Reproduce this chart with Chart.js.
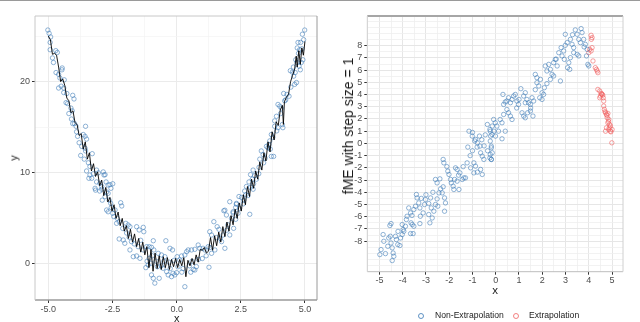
<!DOCTYPE html>
<html><head><meta charset="utf-8">
<script src="https://cdn.jsdelivr.net/npm/chart.js@4.4.0/dist/chart.umd.min.js"></script>
<style>
html,body{margin:0;padding:0;background:#fff;}
body{width:640px;height:322px;position:relative;overflow:hidden;font-family:"Liberation Sans",Arial,sans-serif;}
#topline{position:absolute;left:0;top:0;width:640px;height:1px;background:#9a9a9a;}
canvas{position:absolute;top:0;}
.t{position:absolute;color:#1a1a1a;white-space:nowrap;line-height:1;}
.leg{position:absolute;font-size:8.6px;color:#222;line-height:1;white-space:nowrap;}
.dot{position:absolute;width:4px;height:4px;border-radius:50%;background:transparent;}
</style>
</head><body>
<div id="topline"></div>
<canvas id="left" width="330" height="322" style="left:0;width:330px;height:322px"></canvas>
<canvas id="right" width="310" height="322" style="left:330px;width:310px;height:322px"></canvas>

<div class="t" style="left:176.7px;top:318px;font-size:11px;transform:translate(-50%,-50%)">x</div>
<div class="t" style="left:14px;top:158px;font-size:11px;transform:translate(-50%,-50%) rotate(-90deg)">y</div>
<div class="t" style="left:495px;top:291px;font-size:11.5px;transform:translate(-50%,-50%)">x</div>
<div class="t" style="left:348px;top:126px;font-size:14px;transform:translate(-50%,-50%) rotate(-90deg)">fME with step size = 1</div>

<div class="dot" style="left:418px;top:312.5px;border:1px solid rgba(58,120,181,0.8)"></div>
<div class="leg" style="left:435px;top:311px">Non-Extrapolation</div>
<div class="dot" style="left:512.5px;top:312.5px;border:1px solid rgba(240,100,100,0.8)"></div>
<div class="leg" style="left:529px;top:311px">Extrapolation</div>

<script>
// ---------------- DATA ----------------
// Left panel: observed points (x, y)
const obsPoints = [
[-5.02,25.66],[-4.97,25.3],[-4.91,24.9],[-4.93,24.3],[-4.93,23.5],[-4.84,22.6],[-4.80,22.1],[-4.71,23.4],[-4.65,23.2],
[-4.46,21.5],[-4.47,21.3],[-4.55,20.4],[-4.38,20.2],[-4.60,19.3],[-4.50,19.5],[-4.40,19.3],[-4.28,18.7],[-4.31,17.7],
[-4.05,18.5],[-4.00,18.1],[-4.12,17.1],[-4.07,16.8],[-4.10,15.9],[-4.05,15.4],[-3.98,15.4],[-3.92,15.1],[-3.55,15.1],
[-3.86,14.0],[-3.64,14.2],[-3.57,14.0],[-3.51,13.7],[-3.80,13.3],[-3.57,12.7],[-3.55,12.4],[-3.74,11.9],[-3.29,12.1],
[-3.44,11.1],[-3.38,10.7],[-3.51,10.2],[-3.42,9.4],[-3.12,10.3],[-3.05,10.0],[-2.86,10.1],[-2.79,9.8],[-3.12,9.0],
[-3.16,8.1],[-2.92,8.2],[-2.60,8.7],[-2.49,8.8],[-2.73,7.9],[-2.56,8.3],
[-3.38,9.76],[-3.31,9.4],[-2.83,9.76],[-3.18,8.3],[-2.99,8.85],[-2.92,8.5],[-2.75,9.0],[-2.67,8.66],[-2.79,7.38],
[-2.67,7.75],[-2.63,7.0],[-2.57,6.66],[-2.73,5.92],[-2.67,5.73],[-2.49,5.56],[-2.40,5.92],[-2.18,6.72],[-2.14,6.36],
[-2.32,5.01],[-2.24,4.64],[-2.34,4.46],[-1.98,4.46],[-1.89,4.28],[-1.82,4.09],[-2.24,2.74],[-2.08,2.63],[-2.02,2.27],
[-1.85,2.93],[-1.76,2.45],[-1.82,1.54],[-1.56,4.09],[-1.46,3.73],[-1.30,4.02],[-1.28,3.54],[-1.69,0.80],[-1.56,0.88],
[-1.43,0.62],[-1.50,1.90],[-1.30,1.54],[-1.07,1.90],[-0.98,1.83],[-0.91,2.55],[-0.89,1.54],[-1.07,0.62],[-1.00,0.08],
[-1.11,-0.11],[-0.98,-1.20],[-0.91,-1.57],[-0.85,-2.10],[-0.68,-1.57],[-0.72,1.17],[-0.59,0.99],[-0.46,0.80],[-0.42,2.55],
[-0.53,-0.47],[-0.39,-0.84],[-0.33,-1.20],[-0.20,-1.39],[-0.14,-1.02],[-0.07,-1.20],[0.00,-0.95],[-0.26,1.72],[-0.16,1.54],
[0.12,0.44],[0.02,0.80],[0.19,0.88],[0.32,0.99],[0.39,1.35],[0.45,1.54],[0.32,-2.49],[0.58,1.54],[0.71,1.61],[0.84,2.08],
[0.90,1.72],[0.71,-0.66],[0.77,-0.29],[1.03,1.72],[1.10,1.54],[1.23,1.90],[1.29,3.54],[1.36,3.18],[1.26,-0.36],[1.36,1.17],
[1.49,1.54],[1.45,4.64],[1.58,4.09],[1.65,3.80],[1.75,2.45],[1.88,1.72],[1.81,3.18],[1.84,5.84],[1.94,5.37],[2.07,6.83],
[2.14,5.01],[2.20,5.73],[2.33,6.65],[2.39,5.56],[2.22,3.91],[2.07,3.18],
[-0.80,0.30],[-0.75,-0.30],[-0.60,-0.20],[-0.50,0.30],[-0.30,0.20],[-0.10,0.40],[0.05,-0.30],[0.25,-0.50],[0.50,-0.20],
[0.60,0.30],[0.85,0.50],[-1.20,-0.40],[-1.15,0.30],[-0.95,0.90],[0.55,-0.90],[0.65,-0.60],[0.20,-0.90],[-0.25,-0.50],
[-1.17,1.90],[-1.65,2.2],[-1.40,2.6],[-1.95,3.4],[-2.10,3.9],[-2.45,5.2],[-2.55,6.2],[-2.90,7.0],[-3.00,8.0],[-3.25,9.9],
[-3.60,11.5],[-3.70,12.9],[-3.90,14.5],[-4.20,16.5],[-4.25,17.6],[-4.40,18.8],[-4.70,21.0],[-4.60,20.8],
[1.00,0.6],[1.15,0.9],[1.30,1.8],[1.55,2.9],[1.70,2.8],[1.95,3.7],[2.00,4.3],[2.30,4.9],[2.45,6.1],[2.60,6.6],[2.70,7.6],
[3.00,8.8],[3.20,9.9],[3.45,11.6],[3.50,12.9],[3.75,13.9],[3.90,14.6],[4.05,16.5],[4.25,18.0],[4.45,19.4],[4.55,21.6],
[4.62,21.0],[4.88,23.6],[4.95,24.6],
[4.99,25.66],[4.90,25.2],[4.83,24.3],[4.73,24.3],[4.70,23.7],[4.79,23.5],[4.75,23.1],[4.64,22.4],[4.69,22.1],[4.86,22.1],
[4.92,22.4],[4.77,21.7],[4.82,21.3],[4.43,21.2],[4.51,21.05],[4.56,20.6],[4.60,19.7],[4.67,19.9],[4.17,18.7],[4.30,18.6],
[4.38,18.4],[4.21,17.9],[3.95,17.5],[4.02,17.3],[4.08,17.1],[3.89,16.2],[3.82,15.7],[4.12,15.3],[4.14,14.95],[3.82,15.1],
[3.95,14.95],[3.69,14.2],[3.63,13.5],[3.60,13.1],[3.56,12.75],[3.65,12.6],[3.30,12.4],[3.37,12.0],[3.24,11.5],[3.39,11.1],
[3.21,10.6],[3.69,11.8],[3.78,11.8],[2.98,10.3],[2.88,9.8],[3.04,9.7],[3.11,9.3],[2.95,9.3],[2.82,9.0],[2.72,8.5],
[2.88,8.4],[2.98,8.2],[2.65,8.0],[2.78,7.5],[2.43,7.4],[2.53,7.3],[2.61,7.0],[2.33,6.55],[2.30,6.2],[1.88,5.9],
[2.85,5.45],[2.20,5.6]
];

// Left panel: fitted (prediction) line
const fitX = [-5.00,-4.92,-4.84,-4.76,-4.68,-4.60,-4.52,-4.44,-4.36,-4.28,-4.20,-4.12,-4.04,-3.96,-3.88,-3.80,-3.72,-3.64,-3.56,-3.48,
-3.40,-3.32,-3.24,-3.16,-3.08,-3.00,-2.92,-2.84,-2.76,-2.68,-2.60,-2.52,-2.44,-2.36,-2.28,-2.20,-2.12,-2.04,-1.96,-1.88,
-1.80,-1.72,-1.64,-1.56,-1.48,-1.40,-1.32,-1.24,-1.16,-1.08,-1.00,-0.92,-0.84,-0.76,-0.68,-0.60,-0.52,-0.44,-0.36,-0.28,
-0.20,-0.12,-0.04,0.04,0.12,0.20,0.28,0.36,0.44,0.52,0.60,0.68,0.76,0.84,0.92,1.00,1.08,1.16,1.24,1.32,
1.40,1.48,1.56,1.64,1.72,1.80,1.88,1.96,2.04,2.12,2.20,2.28,2.36,2.44,2.52,2.60,2.68,2.76,2.84,2.92,
3.00,3.08,3.16,3.24,3.32,3.40,3.48,3.56,3.64,3.72,3.80,3.88,3.96,4.04,4.12,4.16,4.20,4.28,4.36,4.44,
4.52,4.60,4.66,4.70,4.76,4.82,4.88,4.94,5.00];
const fitY = [25.0,24.6,23.0,23.1,22.9,21.6,20.0,20.3,19.6,18.2,17.9,16.6,16.8,15.5,15.3,14.1,14.3,12.6,13.4,11.5,
12.2,10.2,11.0,9.6,10.1,8.6,9.2,7.5,8.4,6.8,7.3,5.8,6.5,5.0,5.7,4.2,5.0,3.6,4.2,2.8,
3.8,2.4,3.3,1.9,2.8,1.3,2.4,1.0,1.9,-0.4,1.6,-0.8,1.2,-0.5,0.9,-0.6,0.8,-0.4,0.7,-0.6,
0.5,-0.3,0.6,-0.4,0.5,-0.2,0.7,-1.4,0.4,-0.2,0.6,-0.1,1.0,0.2,1.6,1.5,1.8,1.2,1.4,2.9,
1.5,3.1,2.0,3.5,2.4,4.1,3.0,4.6,3.6,5.3,4.3,6.0,5.0,6.7,5.8,7.6,6.5,8.5,7.4,9.3,
8.3,10.2,9.3,11.2,10.3,12.2,11.3,13.4,12.3,14.5,13.6,15.6,15.2,16.9,17.4,15.3,17.8,18.3,18.6,20.0,
20.7,21.4,22.8,21.6,23.4,21.9,23.7,22.9,24.4];

// Right panel: fME values, non-extrapolation (x, fME)
const nonExtPoints = [
[-4.98,-9.1],[-4.93,-8.69],[-4.84,-7.46],[-4.81,-8.01],[-4.74,-9.02],[-4.64,-8.42],[-4.60,-7.74],[-4.53,-7.6],[-4.50,-8.15],
[-4.55,-6.72],[-4.50,-6.56],[-4.45,-8.55],[-4.41,-8.97],[-4.38,-9.24],[-4.45,-9.59],[-4.31,-7.6],[-4.27,-7.87],[-4.21,-8.28],
[-4.12,-8.36],[-4.09,-7.74],[-4.02,-7.46],[-3.98,-7.05],[-4.02,-6.64],[-3.95,-7.19],[-3.88,-6.78],[-3.81,-5.96],[-3.84,-6.23],
[-3.74,-5.28],[-3.66,-5.69],[-3.64,-6.5],[-3.59,-6.64],[-3.52,-6.78],[-3.55,-7.38],[-3.66,-7.38],[-3.52,-5.41],[-3.45,-5.14],
[-3.41,-4.18],[-3.38,-4.46],[-3.31,-4.87],[-3.26,-5.28],[-3.24,-5.96],[-3.26,-6.56],[-3.12,-5.69],[-3.06,-5.0],[-3.02,-4.59],
[-2.88,-4.92],[-2.80,-4.46],[-2.77,-5.28],[-2.88,-5.82],[-2.83,-6.5],[-2.73,-6.1],[-2.66,-5.55],[-2.59,-5.0],[-2.52,-4.54],
[-2.49,-5.14],[-2.59,-2.95],[-2.52,-3.23],[-2.44,-4.05],[-2.37,-3.72],[-2.30,-4.05],[-2.26,-3.55],[-2.20,-4.46],[-2.16,-4.87],
[-2.20,-5.55],[-2.26,-1.31],[-2.23,-1.59],[-2.06,-2.27],[-2.01,-2.54],[-1.94,-2.95],[-1.91,-3.23],[-1.83,-3.5],[-1.80,-3.77],
[-1.73,-2.0],[-1.66,-2.13],[-1.54,-2.41],[-1.44,-2.95],[-1.37,-2.82],[-1.30,-2.82],[-1.77,-2.95],[-1.66,-3.09],[-1.58,-3.77],
[-1.23,-1.59],[-1.08,-2.0],[-0.94,-1.59],[-0.87,-1.86],[-0.94,-2.41],[-0.79,-2.35],[-0.65,-2.13],[-0.58,-2.54],
[-1.15,1.0],[-1.01,0.6],[-0.87,0.33],[-0.79,0.05],[-0.68,-0.22],[-0.65,-0.77],[-0.58,-1.04],[-0.51,-1.31],
[-0.36,1.55],[-0.25,1.14],[-0.15,1.42],[-0.08,1.0],[-0.01,0.6],[-0.22,0.6],[-0.19,-0.36],[-0.15,-0.77],[-0.25,-1.18],[-0.19,-1.31],
[-1.00,0.9],[-0.90,0.2],[-0.80,-0.3],[-0.70,0.6],[-0.60,0.3],[-0.50,-0.2],[-0.45,0.7],[-0.35,-0.6],[-1.10,-1.0],[-1.00,-0.6],
[-1.20,-0.3],[-1.40,-1.9],[-1.60,-2.6],[-2.10,-1.9],[-2.40,-2.9],[-2.70,-4.0],[-3.00,-4.2],[-3.20,-4.5],[-3.60,-5.9],[-4.20,-7.2],
[-0.235,1.0],[-0.16,0.73],[-0.235,0.19],[-0.19,-0.22],[-0.235,-0.9],[-0.19,-1.31],[-0.09,1.96],[-0.02,1.69],[0.05,1.42],
[0.12,1.0],[0.19,1.96],[0.27,1.69],[0.27,0.38],[0.41,1.0],[0.31,4.01],[0.34,3.19],[0.41,3.39],[0.48,3.47],[0.55,3.74],
[0.63,3.33],[0.70,3.6],[0.77,3.88],[0.84,4.01],[0.91,3.47],[0.98,3.19],[0.48,2.78],[0.55,2.51],[0.63,2.24],[0.70,1.96],
[0.34,2.37],[1.08,4.48],[1.20,3.88],[1.27,4.15],[1.34,3.6],[1.41,3.33],[1.49,3.19],[1.56,3.74],[1.63,3.47],[1.27,3.33],
[1.13,2.51],[1.20,2.24],[1.27,2.10],[1.37,2.51],[1.49,2.65],[1.60,2.24],[1.70,5.65],[1.77,5.38],[1.77,4.97],[1.85,4.70],
[1.92,5.24],[1.99,4.15],[2.06,4.01],[2.09,4.56],[1.89,3.74],[1.99,3.6],[2.13,6.34],[2.20,5.93],[2.28,6.47],[2.35,6.06],
[2.42,5.65],[2.49,6.61],[2.56,6.88],[2.64,6.34],[2.35,5.24],[2.49,5.52],[2.78,5.11],[2.71,7.43],[2.81,7.84],[2.85,7.16],
[2.92,7.57],[2.99,8.03],[3.07,8.25],[2.95,6.88],[3.14,6.61],[3.09,6.2],[3.18,6.06],[2.99,8.93],[3.21,8.52],[3.28,8.11],
[3.35,7.84],[3.42,9.29],[3.50,8.93],[3.57,8.52],[3.64,8.25],[3.67,9.4],[3.71,9.07],[3.78,8.52],[3.85,8.11],[3.93,7.7],
[3.90,7.16],[3.96,6.47],[4.00,6.34],[3.35,7.43],[3.50,7.29],[3.57,7.16],[3.21,7.02],
[0.9,2.9],[1.5,2.9],[1.0,3.6],[1.7,4.4],[2.2,4.9],[2.6,6.9],[3.3,8.9],[3.8,7.9]
];

// Right panel: fME values, extrapolation (x, fME)
const extPoints = [
[4.10,8.85],[4.14,8.66],[4.11,8.52],[4.04,7.70],[4.10,7.57],[4.14,7.84],[4.00,7.43],[4.18,6.75],[4.28,6.20],[4.33,6.06],
[4.36,5.93],[4.39,5.79],[4.39,4.42],[4.47,4.29],[4.53,4.10],[4.57,4.01],[4.50,3.88],[4.47,3.74],[4.62,3.74],[4.64,3.47],
[4.64,3.06],[4.67,2.78],[4.72,2.51],[4.76,2.37],[4.82,2.46],[4.79,2.10],[4.86,1.96],[4.82,1.69],[4.90,1.55],[4.93,1.42],
[4.76,1.28],[4.86,1.14],[4.72,1.00],[4.93,1.00],[5.00,1.14],[4.99,0.05],
[4.55,4.05],[4.60,3.95],[4.78,2.30],[4.85,1.80],[4.88,1.30],[4.95,0.95],[4.70,2.60]
];

// Axis ticks
const leftXTicks = [-5, -3.75, -2.5, -1.25, 0, 1.25, 2.5, 3.75, 5];
const leftXLabeled = [-5, -2.5, 0, 2.5, 5];
const leftYTicks = [0, 5, 10, 15, 20, 25];
const leftYLabeled = [0, 10, 20];
const rightXTicks = [-5.5,-5,-4.5,-4,-3.5,-3,-2.5,-2,-1.5,-1,-0.5,0,0.5,1,1.5,2,2.5,3,3.5,4,4.5,5];
const rightXLabeled = [-5,-4,-3,-2,-1,0,1,2,3,4,5];
const rightYTicks = [-10,-9.5,-9,-8.5,-8,-7.5,-7,-6.5,-6,-5.5,-5,-4.5,-4,-3.5,-3,-2.5,-2,-1.5,-1,-0.5,0,
  0.5,1,1.5,2,2.5,3,3.5,4,4.5,5,5.5,6,6.5,7,7.5,8,8.5,9,9.5,10];
const rightYLabeled = [-8,-7,-6,-5,-4,-3,-2,-1,0,1,2,3,4,5,6,7,8];

// ---------------- CHARTS ----------------
const FONT = "'Liberation Sans', Arial, sans-serif";
const BLUE = 'rgba(58,120,181,0.66)';
const RED = 'rgba(240,95,95,0.7)';

const panelBorder = {
  id: 'panelBorder',
  afterDraw(chart, args, o) {
    const {left, right, top, bottom} = chart.chartArea;
    const c = chart.ctx;
    c.save();
    const seg = (s, x1, y1, x2, y2) => {
      if (!s) return;
      c.strokeStyle = s.color; c.lineWidth = s.width;
      c.beginPath(); c.moveTo(x1, y1); c.lineTo(x2, y2); c.stroke();
    };
    seg(o.top, left, top, right, top);
    seg(o.bottom, left, bottom, right, bottom);
    seg(o.left, left, top, left, bottom);
    seg(o.right, right, top, right, bottom);
    c.restore();
  }
};

function axis(min, max, ticks, labeled, fmt, fit, opts) {
  const isMaj = v => labeled.some(l => Math.abs(l - v) < 1e-9);
  return {
    type: 'linear', min, max,
    afterBuildTicks: s => { s.ticks = ticks.filter(v => v >= min && v <= max).map(v => ({value: v})); },
    afterFit: fit,
    border: {display: false},
    grid: {
      color: ctx => isMaj(ctx.tick.value) ? opts.majC : opts.minC,
      lineWidth: ctx => isMaj(ctx.tick.value) ? opts.majW : opts.minW,
      tickColor: ctx => isMaj(ctx.tick.value) ? '#333333' : 'rgba(0,0,0,0)',
      tickLength: 3, drawTicks: true
    },
    ticks: {
      autoSkip: false, maxRotation: 0, minRotation: 0,
      padding: opts.pad, color: '#4d4d4d',
      font: {family: FONT, size: opts.fs},
      callback: v => isMaj(v) ? fmt(v) : ''
    }
  };
}

new Chart(document.getElementById('left'), {
  type: 'scatter',
  data: { datasets: [
    { data: fitX.map((x, i) => ({x, y: fitY[i]})), showLine: true, borderColor: '#000', borderWidth: 0.9,
      pointRadius: 0, fill: false, tension: 0 },
    { data: obsPoints.map(p => ({x: p[0], y: p[1]})), pointStyle: 'circle', pointRadius: 2.2,
      borderColor: BLUE, backgroundColor: 'rgba(0,0,0,0)', borderWidth: 0.85 }
  ]},
  options: {
    responsive: false, animation: false, events: [],
    layout: {padding: {top: 16, right: 13, left: 0, bottom: 0}},
    plugins: {legend: {display: false}, tooltip: {enabled: false},
      panelBorder: {top: {color: '#c8c8c8', width: 1}, left: {color: '#c8c8c8', width: 1},
                    right: {color: '#9a9a9a', width: 1}, bottom: {color: '#9a9a9a', width: 1.4}}},
    scales: {
      x: axis(-5.52, 5.47, leftXTicks, leftXLabeled, v => v.toFixed(1), s => { s.height = 22; },
              {majC: '#ebebeb', minC: '#f4f4f4', majW: 1, minW: 0.7, pad: 1, fs: 9}),
      y: axis(-3.95, 27.2, leftYTicks, leftYLabeled, v => String(v), s => { s.width = 35; },
              {majC: '#ebebeb', minC: '#f4f4f4', majW: 1, minW: 0.7, pad: 2, fs: 9})
    }
  },
  plugins: [panelBorder]
});

new Chart(document.getElementById('right'), {
  type: 'scatter',
  data: { datasets: [
    { label: 'Non-Extrapolation', data: nonExtPoints.map(p => ({x: p[0], y: p[1]})), pointStyle: 'circle',
      pointRadius: 2.2, borderColor: BLUE, backgroundColor: 'rgba(0,0,0,0)', borderWidth: 0.85 },
    { label: 'Extrapolation', data: extPoints.map(p => ({x: p[0], y: p[1]})), pointStyle: 'circle',
      pointRadius: 2.2, borderColor: RED, backgroundColor: 'rgba(0,0,0,0)', borderWidth: 0.85 }
  ]},
  options: {
    responsive: false, animation: false, events: [],
    layout: {padding: {top: 16, right: 17, left: 0, bottom: 0}},
    plugins: {legend: {display: false}, tooltip: {enabled: false},
      panelBorder: {top: {color: '#a6a6a6', width: 2}, left: {color: '#d0d0d0', width: 1},
                    right: {color: '#d0d0d0', width: 1}, bottom: {color: '#bdbdbd', width: 1}}},
    scales: {
      x: axis(-5.52, 5.47, rightXTicks, rightXLabeled, v => String(v), s => { s.height = 322 - 271.7; },
              {majC: '#e6e6e6', minC: '#efefef', majW: 1, minW: 0.8, pad: 0, fs: 9}),
      y: axis(-10.5, 10.43, rightYTicks, rightYLabeled, v => String(v), s => { s.width = 37.3; },
              {majC: '#e6e6e6', minC: '#efefef', majW: 1, minW: 0.8, pad: 2, fs: 9})
    }
  },
  plugins: [panelBorder]
});
</script>
</body></html>
